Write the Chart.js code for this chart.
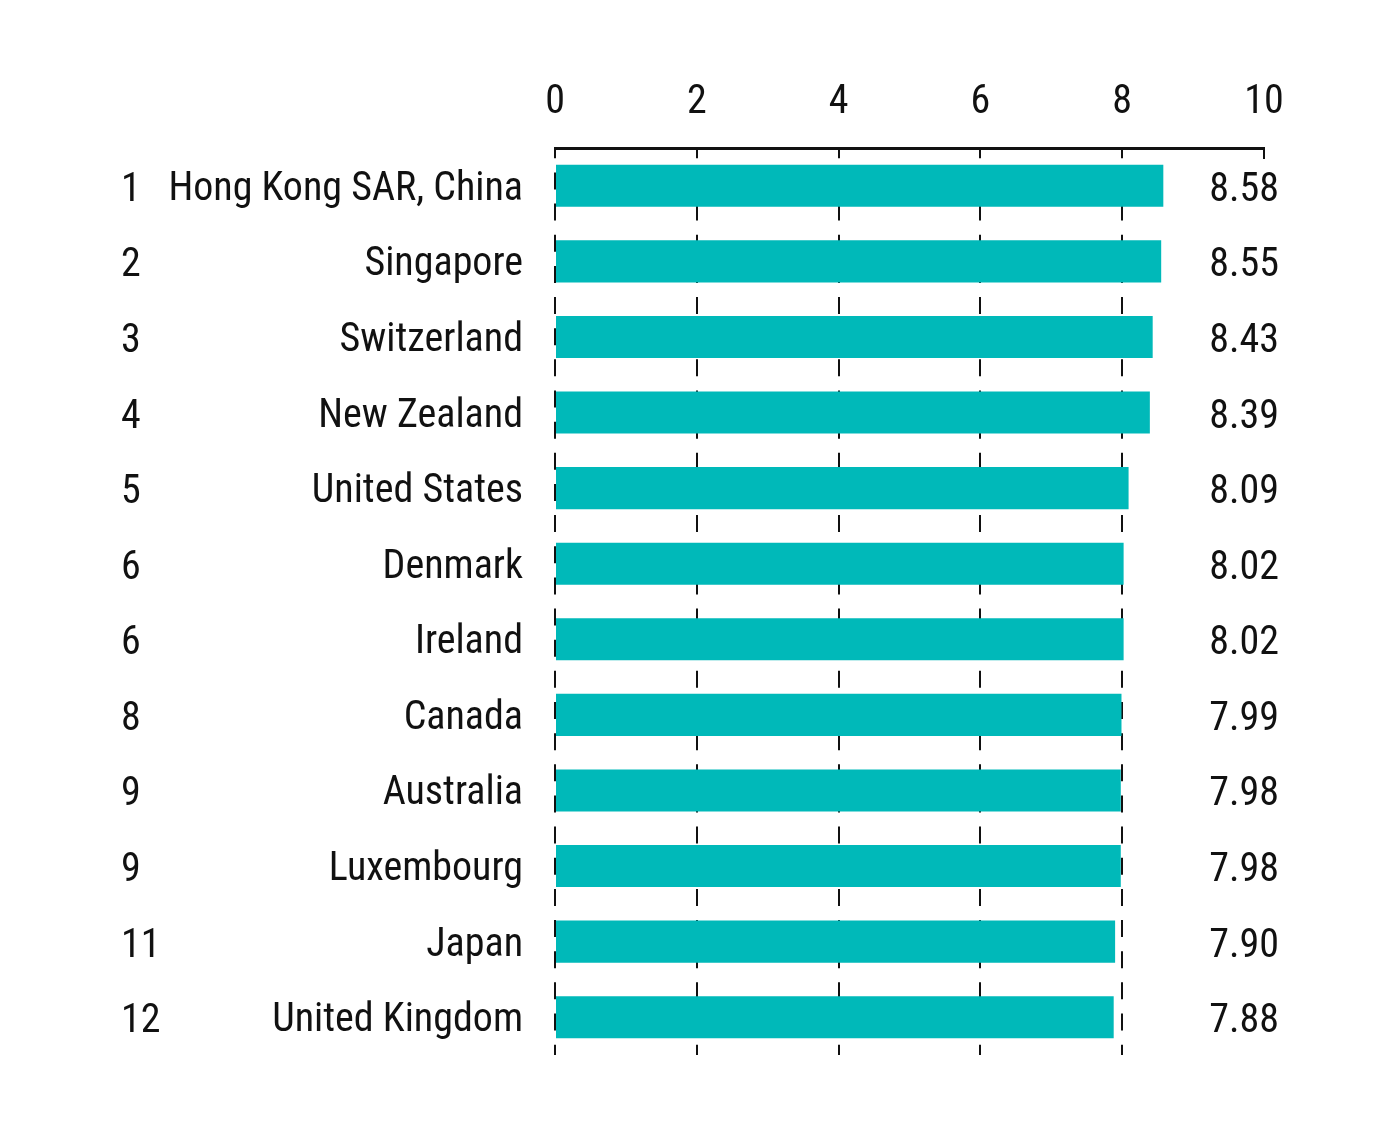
<!DOCTYPE html>
<html>
<head>
<meta charset="utf-8">
<script src="https://cdn.jsdelivr.net/npm/chart.js@4/dist/chart.umd.min.js"></script>
<style>
  html, body { margin: 0; padding: 0; background: #fff; }
  #wrap { width: 1400px; height: 1129px; position: relative; }
</style>
</head>
<body>
<div id="wrap"><canvas id="rankChart"></canvas></div>
<script>
// ranking data
const ranks = ['1', '2', '3', '4', '5', '6', '6', '8', '9', '9', '11', '12'];
const countries = ['Hong Kong SAR, China', 'Singapore', 'Switzerland', 'New Zealand', 'United States',
    'Denmark', 'Ireland', 'Canada', 'Australia', 'Luxembourg', 'Japan', 'United Kingdom'];
const scores = [8.58, 8.55, 8.43, 8.39, 8.09, 8.02, 8.02, 7.99, 7.98, 7.98, 7.90, 7.88];
const xTicks = [0, 2, 4, 6, 8, 10];

const FONT = '"Liberation Sans Narrow", "Roboto Condensed", "DejaVu Sans Condensed", sans-serif';
const INK = '#111111';

// rank numbers on the left, score values on the right
const sideLabels = {
    id: 'sideLabels',
    afterDatasetsDraw(chart) {
        const ctx = chart.ctx;
        const y = chart.scales.y;
        ctx.save();
        ctx.font = '40px ' + FONT;
        ctx.fillStyle = INK;
        ctx.textBaseline = 'middle';
        ranks.forEach((r, i) => {
            ctx.textAlign = 'left';
            ctx.fillText(r, 121, y.getPixelForValue(i) + 5);
        });
        scores.forEach((v, i) => {
            ctx.textAlign = 'right';
            ctx.fillText(v.toFixed(2), 1279, y.getPixelForValue(i) + 5);
        });
        ctx.restore();
    }
};

const ctx = document.getElementById('rankChart').getContext('2d');
new Chart(ctx, {
    type: 'bar',
    data: {
        labels: countries,
        datasets: [{
            data: scores,
            backgroundColor: '#00B9B9',
            borderWidth: 0,
            barPercentage: 0.556,
            categoryPercentage: 1
        }]
    },
    options: {
        indexAxis: 'y',
        responsive: true,
        maintainAspectRatio: false,
        animation: false,
        layout: {
            padding: { top: 0, left: 0, right: 136, bottom: 74 }
        },
        plugins: {
            legend: { display: false },
            tooltip: { enabled: false }
        },
        scales: {
            x: {
                position: 'top',
                min: 0,
                max: 10,
                afterBuildTicks: (axis) => { axis.ticks = xTicks.map(v => ({ value: v })); },
                afterFit: (axis) => { axis.height = 148; },
                ticks: {
                    color: INK,
                    padding: 21,
                    font: { family: FONT, size: 40 }
                },
                grid: {
                    color: INK,
                    lineWidth: 2,
                    drawTicks: false
                },
                border: {
                    display: true,
                    color: INK,
                    width: 3,
                    dash: (c) => (c.tick && c.tick.value === 10) ? [9, 3000] : [17, 14.15],
                    dashOffset: (c) => (c.tick && c.tick.value === 10) ? 0 : 8.7
                }
            },
            y: {
                afterFit: (axis) => { axis.width = 555; },
                ticks: {
                    color: INK,
                    padding: 32,
                    labelOffset: 4,
                    font: { family: FONT, size: 40 }
                },
                grid: { display: false, drawTicks: false },
                border: { display: false }
            }
        }
    },
    plugins: [sideLabels]
});
</script>
</body>
</html>
